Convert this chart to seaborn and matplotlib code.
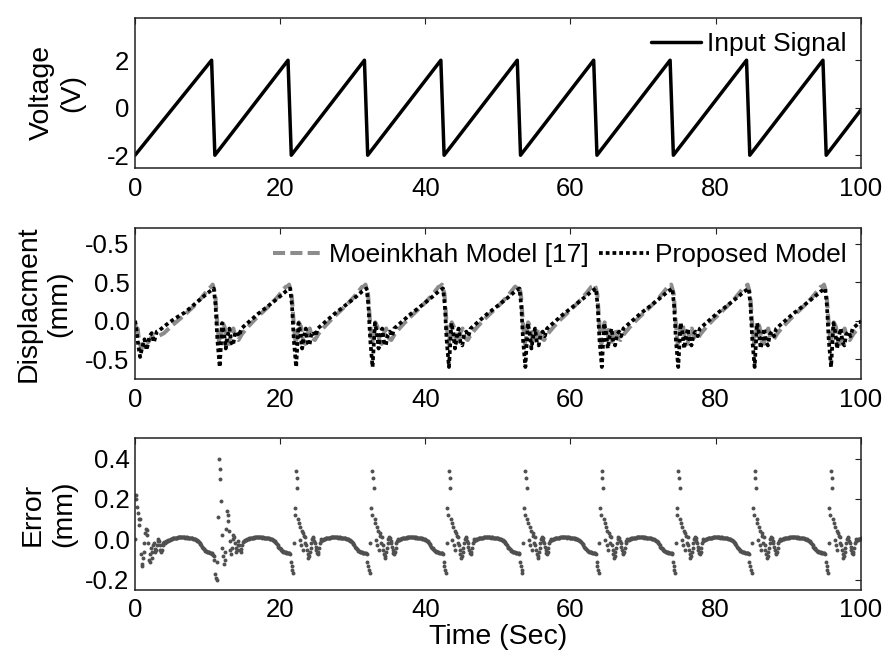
import numpy as np
import pandas as pd
import matplotlib
matplotlib.use("Agg")
import matplotlib.pyplot as plt
import seaborn as sns

# --- input signal (sawtooth corners)
volt_t = [0.0, 10.55, 11.0, 21.08, 21.53, 31.61, 32.06, 42.14, 42.59, 52.67, 53.12,
          63.2, 63.65, 73.73, 74.18, 84.26, 84.71, 94.79, 95.24, 100.0]
volt_v = [-2, 2, -2, 2, -2, 2, -2, 2, -2, 2, -2, 2, -2, 2, -2, 2, -2, 2, -2, -0.1]

# times of the sawtooth peaks, each model cycle is drawn relative to these
peak_t = [10.55, 21.08, 31.61, 42.14, 52.67, 63.2, 73.73, 84.26, 94.79]

# --- displacement, first (start-up) segment
head_t_prop = [0.0, 0.2, 0.45, 0.7, 0.95, 1.3, 1.6, 2.0, 2.3, 2.6, 3.0, 3.4, 4.6, 5.5, 6.9, 8.0, 9.0, 10.0]
head_v_prop = [0.0, -0.12, -0.32, -0.47, -0.36, -0.24, -0.38, -0.20, -0.16, -0.28, -0.14, -0.12,
               -0.03, 0.03, 0.11, 0.20, 0.28, 0.36]
head_t_moe = [0.0, 0.15, 0.35, 0.6, 0.9, 1.2, 1.5, 1.8, 2.2, 2.6, 3.2, 4.0, 5.0, 6.0, 7.0, 8.0, 9.0, 10.0]
head_v_moe = [0.0, -0.18, -0.10, -0.28, -0.36, -0.30, -0.24, -0.28, -0.22, -0.20, -0.20, -0.16,
              -0.07, 0.01, 0.09, 0.18, 0.28, 0.40]

# --- displacement, one cycle after a peak (time from the peak)
cyc_t_prop = [0.0, 0.3, 0.55, 0.8, 1.12, 1.3, 1.45, 1.7, 1.95, 2.2, 2.45, 2.7, 2.95, 3.2, 3.5,
              3.8, 4.1, 5.2, 6.4, 7.5, 8.7, 9.6, 10.2]
cyc_v_prop = [0.40, 0.42, 0.20, -0.25, -0.60, -0.30, -0.03, -0.15, -0.36, -0.20, -0.10, -0.28,
              -0.32, -0.18, -0.14, -0.20, -0.10, -0.01, 0.09, 0.17, 0.26, 0.33, 0.38]
cyc_t_moe = [0.0, 0.15, 0.5, 0.8, 1.05, 1.25, 1.5, 1.8, 2.1, 2.4, 2.7, 3.0, 3.3, 3.7, 4.2,
             5.0, 6.0, 7.0, 8.0, 9.0, 9.7, 10.2]
cyc_v_moe = [0.45, 0.47, 0.35, -0.05, -0.30, -0.20, -0.02, -0.08, -0.28, -0.30, -0.15, -0.10,
             -0.22, -0.25, -0.17, -0.08, 0.02, 0.11, 0.20, 0.30, 0.38, 0.44]
end_v_prop = -0.04
end_v_moe = -0.08

# --- error samples (every 0.1 s)
err_step = 0.1
err_head = [0.00, 0.22, 0.20, 0.16, 0.13, 0.10, 0.07, 0.10, -0.07, -0.12,
            -0.13, -0.09, -0.06, -0.02, 0.03, 0.05, 0.045, 0.02, -0.02, -0.10,
            -0.11, -0.07, -0.04, -0.09, -0.06, -0.03, -0.02, -0.045, -0.06, -0.05,
            -0.03, -0.01, 0.0, -0.01, -0.03, -0.05, -0.06, -0.05, -0.03, -0.02,
            -0.015, -0.02, -0.015, -0.01, -0.008, -0.006, -0.005]
err_second = [-0.066, -0.07, -0.075, -0.08, -0.10, -0.17, -0.19, -0.20, -0.11, 0.11,
              0.40, 0.35, 0.30, 0.19, 0.02, -0.04, -0.08, -0.12, -0.10, -0.06,
              0.05, 0.14, 0.12, 0.09, 0.04, -0.01, -0.05, -0.07, -0.04, 0.0,
              0.02, 0.01, -0.02, -0.04, -0.06, -0.05, -0.03, -0.01, -0.03, -0.05,
              -0.06, -0.045, -0.03, -0.015, -0.008, -0.006, -0.005]
err_cycle = [-0.066, -0.067, -0.068, -0.07, -0.11, -0.13, -0.15, -0.165, -0.02, 0.155,
             0.12, 0.34, 0.305, 0.255, 0.10, 0.08, -0.005, 0.06, -0.03, 0.04,
             -0.05, 0.03, 0.015, -0.02, 0.01, -0.03, -0.05, -0.07, -0.09, -0.08,
             -0.06, -0.04, -0.02, 0.0, 0.01, 0.005, -0.01, -0.02, -0.035, -0.05,
             -0.065, -0.07, -0.06, -0.04, -0.02, -0.008, 0.0,
             -0.004, -0.002, 0.0, 0.002, 0.003, 0.005, 0.006, 0.007, 0.008, 0.008,
             0.009, 0.009, 0.010, 0.010, 0.010, 0.011, 0.010, 0.010, 0.011, 0.011,
             0.010, 0.010, 0.009, 0.010, 0.010, 0.009, 0.008, 0.008, 0.009, 0.008,
             0.007, 0.006, 0.005, 0.004, 0.003, 0.002, 0.001, -0.001, -0.003, -0.006,
             -0.010, -0.015, -0.020, -0.025, -0.030, -0.035, -0.040, -0.044, -0.048,
             -0.052, -0.055, -0.058, -0.060, -0.062, -0.063, -0.064, -0.065, -0.066]

x_ticks = [0, 20, 40, 60, 80, 100]


# build the long tables from the cycles
def build_disp(head_t, head_v, cyc_t, cyc_v, end_v):
    t = list(head_t)
    v = list(head_v)
    for p in peak_t:
        for a, b in zip(cyc_t, cyc_v):
            if p + a < 100:
                t.append(p + a)
                v.append(b)
    t.append(100.0)
    v.append(end_v)
    return pd.DataFrame({"t": t, "v": v})


volt_df = pd.DataFrame({"t": volt_t, "v": volt_v})
prop_df = build_disp(head_t_prop, head_v_prop, cyc_t_prop, cyc_v_prop, end_v_prop)
moe_df = build_disp(head_t_moe, head_v_moe, cyc_t_moe, cyc_v_moe, end_v_moe)

n_head = len(err_head)
err_t, err_v = [], []
for k, start in enumerate([0.0] + peak_t):
    if k == 0:
        vals = err_head + err_cycle[n_head:]
    elif k == 1:
        vals = err_second + err_cycle[n_head:]
    else:
        vals = err_cycle
    for i, e in enumerate(vals):
        tt = start + i * err_step
        if tt <= 100:
            err_t.append(tt)
            err_v.append(e)
err_df = pd.DataFrame({"t": err_t, "e": err_v})

# --- plotting
sns.set_style("white")
plt.rcParams["font.family"] = ["Liberation Sans", "DejaVu Sans"]
plt.rcParams["font.size"] = 18.5
plt.rcParams["text.color"] = "black"
plt.rcParams["axes.labelcolor"] = "black"
plt.rcParams["xtick.color"] = "black"
plt.rcParams["ytick.color"] = "black"

fig = plt.figure(figsize=(8.86, 6.53), dpi=100)
ax1 = fig.add_axes([0.1524, 0.7423, 0.8191, 0.2309])
ax2 = fig.add_axes([0.1524, 0.4191, 0.8191, 0.2312])
ax3 = fig.add_axes([0.1524, 0.0965, 0.8191, 0.2323])

sns.lineplot(data=volt_df, x="t", y="v", color="black", lw=2.5, sort=False,
             estimator=None, label="Input Signal", ax=ax1)

sns.lineplot(data=moe_df, x="t", y="v", color="#8c8c8c", lw=2.9, sort=False,
             estimator=None, label="Moeinkhah Model [17]", ax=ax2)
ax2.lines[-1].set_dashes([3.0, 1.3])
sns.lineplot(data=prop_df, x="t", y="v", color="black", lw=2.7, sort=False,
             estimator=None, label="Proposed Model", ax=ax2)
ax2.lines[-1].set_dashes([1.0, 0.8])

sns.scatterplot(data=err_df, x="t", y="e", color="#505050", s=8, linewidth=0, ax=ax3)

ax1.set_ylim(-2.55, 3.8)
ax1.set_yticks([-2, 0, 2])
ax1.set_yticklabels(["-2", "0", "2"])

ax2.set_ylim(-0.76, 1.2)
ax2.set_yticks([-0.5, 0.0, 0.5, 1.0])
ax2.set_yticklabels(["-0.5", "0.0", "0.5", "-0.5"])

ax3.set_ylim(-0.25, 0.5)
ax3.set_yticks([-0.2, 0.0, 0.2, 0.4])
ax3.set_yticklabels(["-0.2", "0.0", "0.2", "0.4"])

for ax in (ax1, ax2, ax3):
    ax.set_xlim(0, 100)
    ax.set_xticks(x_ticks)
    ax.set_xticklabels([str(v) for v in x_ticks])
    ax.tick_params(direction="in", length=4.5, width=0.8, top=True, right=True,
                   labelsize=18.5, color="#222222")
    ax.tick_params(axis="x", pad=6)
    ax.tick_params(axis="y", pad=4)
    for s in ax.spines.values():
        s.set_color("#222222")
        s.set_linewidth(1.1)
    ax.set_xlabel("")

ax1.set_ylabel("Voltage\n(V)", fontsize=20.5, linespacing=1.25)
ax2.set_ylabel("Displacment\n(mm)", fontsize=20.5, linespacing=1.25)
ax3.set_ylabel("Error\n(mm)", fontsize=20.5, linespacing=1.25)
ax1.yaxis.set_label_coords(-0.068, 0.5)
ax2.yaxis.set_label_coords(-0.086, 0.5)
ax3.yaxis.set_label_coords(-0.08, 0.5)
ax3.set_xlabel("Time (Sec)", fontsize=20.5, labelpad=1)

ax1.legend(loc="upper right", frameon=False, handlelength=1.9, handletextpad=0.2,
           borderaxespad=0.15, fontsize=19)
ax2.legend(loc="upper right", ncol=2, frameon=False, handlelength=1.9, handletextpad=0.2,
           columnspacing=0.4, borderaxespad=0.15, fontsize=19)

fig.savefig("out.png", dpi=100)
